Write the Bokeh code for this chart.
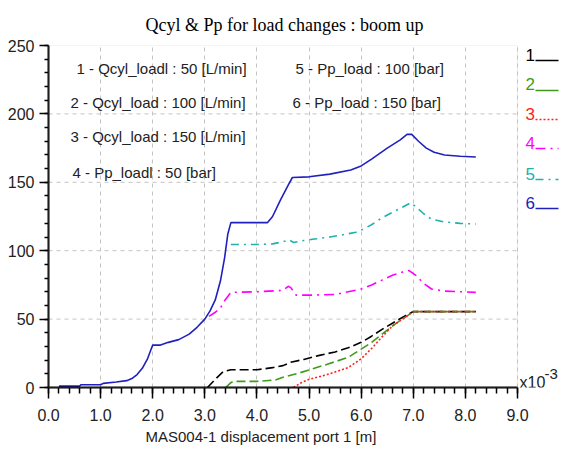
from bokeh.plotting import figure
from bokeh.models import Range1d, FixedTicker, Label, Arrow, BoxAnnotation, Title
from bokeh.embed import file_html
from bokeh.resources import INLINE

# Displacement (x10^-3 m) and curve values for each load case
x_q50 = [3.05, 3.2, 3.35, 3.5, 4.0, 4.3, 4.5, 4.65, 4.9, 5.2, 5.5, 5.75, 6.0, 6.2, 6.4, 6.6, 6.85, 7.0, 8.2]
y_q50 = [0, 6, 11.5, 13, 13, 14.5, 16, 18.5, 20.5, 23.5, 26, 29, 33, 37.5, 42.5, 47, 52.5, 55.5, 55.5]

x_q100 = [3.4, 3.5, 3.55, 4.0, 4.35, 4.5, 4.8, 5.1, 5.35, 5.75, 6.0, 6.2, 6.4, 6.6, 6.85, 7.0, 8.2]
y_q100 = [0, 3.5, 4.5, 4.5, 5.5, 7.5, 10.5, 14, 17, 22, 28, 33, 39, 45, 51.5, 55.5, 55.5]

x_q150 = [4.7, 4.85, 5.0, 5.35, 5.75, 6.0, 6.2, 6.4, 6.6, 6.85, 7.0, 8.2]
y_q150 = [0, 3.5, 6, 9.5, 14.5, 21, 28.5, 37, 45, 51.5, 55.5, 55.5]

x_p50 = [3.08, 3.2, 3.3, 3.35, 3.5, 4.0, 4.5, 4.6, 4.65, 4.75, 5.0, 5.5, 5.75, 6.0, 6.2, 6.4, 6.6, 6.8, 6.92, 7.05, 7.2, 7.35, 7.6, 7.9, 8.2]
y_p50 = [52, 55, 58, 62, 69.5, 70, 71, 74, 73, 67.5, 67.5, 68, 70, 72, 75, 78.5, 82, 84.5, 85.5, 82, 76, 72, 70.5, 70, 69.5]

x_p100 = [3.5, 4.0, 4.3, 4.5, 4.62, 4.7, 4.9, 5.1, 5.4, 5.7, 5.9, 6.0, 6.2, 6.4, 6.6, 6.8, 6.95, 7.05, 7.2, 7.35, 7.6, 7.9, 8.2]
y_p100 = [104.5, 104.5, 105, 106.5, 108, 106, 107.5, 108.5, 110, 112, 113.5, 115, 119, 124, 128, 132, 135, 132, 127, 123, 121, 120, 119.5]

x_p150 = [0.2, 0.6, 0.62, 1.0, 1.05, 1.3, 1.5, 1.6, 1.7, 1.8, 1.9, 1.96, 2.0, 2.15, 2.3, 2.5, 2.7, 2.85,
          3.0, 3.1, 3.2, 3.3, 3.38, 3.44, 3.5, 4.2, 4.3, 4.45, 4.6, 4.68, 5.0, 5.4, 5.8, 6.0, 6.2, 6.5,
          6.75, 6.88, 6.97, 7.1, 7.25, 7.4, 7.6, 7.9, 8.2]
y_p150 = [1, 1, 2, 2, 3, 4, 5, 6.5, 9.5, 14, 21, 27, 31, 31, 33, 35, 39, 44,
          50, 56, 64, 78, 95, 112, 120.5, 120.5, 125, 137, 148, 153.5, 154, 156, 159, 162, 167, 175,
          181, 185, 185, 180, 175, 172, 170, 169, 168.5]

x_ticks = [0, 1, 2, 3, 4, 5, 6, 7, 8, 9]
x_tick_labels = ["0.0", "1.0", "2.0", "3.0", "4.0", "5.0", "6.0", "7.0", "8.0", "9.0"]
y_ticks = [0, 50, 100, 150, 200, 250]

series_ids = ["1", "2", "3", "4", "5", "6"]
series_text = [
    "1 - Qcyl_loadl : 50  [L/min]",
    "2 - Qcyl_load  : 100  [L/min]",
    "3 - Qcyl_load  : 150 [L/min]",
    "4 - Pp_loadl : 50  [bar]",
    "5 - Pp_load : 100  [bar]",
    "6 - Pp_load  : 150  [bar]",
]

colors = ["#000000", "#3f9a1c", "#ff2020", "#ff00ff", "#20b0b0", "#2020c0"]
dashes = ["9 4", "9 4", "2 2", "10 5 2 5", "8 5 2 5", "solid"]
legend_dashes = ["solid", "solid", "2 2", "10 5 2 5", "8 5 2 5", "solid"]

# The frame runs to the right edge of the page so the key beside the plot box stays visible;
# the axis, grid and box are bounded to the 0..9 data span.
x_end = 9 * 513 / 469
p = figure(frame_width=513, frame_height=342, output_backend="svg", toolbar_location=None,
           x_range=Range1d(0, x_end), y_range=Range1d(0, 250),
           min_border_left=48, min_border_right=0, min_border_top=45, min_border_bottom=69)
p.background_fill_color = "white"
p.border_fill_color = "white"
p.outline_line_color = None

p.title = Title(text="Qcyl & Pp for load changes : boom up", align="left", offset=97,
                standoff=22, text_font="Liberation Serif", text_font_size="18px",
                text_font_style="normal", text_color="#000000")

xt = FixedTicker(ticks=x_ticks, minor_ticks=[i * 0.2 for i in range(46)])
yt = FixedTicker(ticks=y_ticks, minor_ticks=list(range(0, 251, 10)))
p.xaxis.ticker = xt
p.yaxis.ticker = yt
p.xgrid.ticker = xt
p.ygrid.visible = False
p.xaxis.bounds = (x_ticks[0], x_ticks[-1])
p.xaxis.major_label_overrides = dict(zip(x_ticks, x_tick_labels))

for ax in (p.xaxis, p.yaxis):
    ax.axis_line_color = "black"
    ax.axis_line_width = 2
    ax.major_tick_line_color = "black"
    ax.minor_tick_line_color = "black"
    ax.major_tick_line_width = 1.5
    ax.minor_tick_line_width = 1.5
    ax.major_tick_in = 0
    ax.minor_tick_in = 0
    ax.major_label_text_font = "Liberation Sans"
    ax.major_label_text_color = "#222222"
    ax.major_label_text_font_size = "16px"

p.xaxis.major_tick_out = 11
p.xaxis.minor_tick_out = 6
p.xaxis.major_label_standoff = 10
p.yaxis.major_tick_out = 9
p.yaxis.minor_tick_out = 4
p.yaxis.major_label_standoff = 5

p.add_layout(Title(text="MAS004-1 displacement port 1 [m]", align="left", offset=97,
                   standoff=5, text_font="Liberation Sans", text_font_size="15px",
                   text_font_style="normal", text_color="#222222"), "below")

p.xgrid.grid_line_color = "#c4c4c4"
p.xgrid.grid_line_dash = "4 4"
p.xgrid.grid_line_width = 1

# Horizontal grid lines limited to the plot box
inner_y = y_ticks[1:-1]
p.segment(x0=[x_ticks[0]] * len(inner_y), x1=[x_ticks[-1]] * len(inner_y), y0=inner_y, y1=inner_y,
          line_color="#c4c4c4", line_dash="4 4", line_width=1)

# Plot box
p.add_layout(BoxAnnotation(left=x_ticks[0], right=x_ticks[-1], bottom=y_ticks[0], top=y_ticks[-1],
                           fill_alpha=0, line_color="#b8b8b8", line_width=1))

xs = [x_q50, x_q100, x_q150, x_p50, x_p100, x_p150]
ys = [y_q50, y_q100, y_q150, y_p50, y_p100, y_p150]
for xv, yv, c, d in zip(xs, ys, colors, dashes):
    p.line(xv, yv, line_color=c, line_width=1.6, line_dash=d)

# Curve descriptions inside the plot area (screen offsets from frame's lower-left)
text_pos = [(28, 319), (22, 285), (22, 251), (24, 215), (247, 319), (244, 285)]
for t, (sx, sy) in zip(series_text, text_pos):
    p.add_layout(Label(x=sx, y=sy, x_units="screen", y_units="screen", text=t,
                       text_font="Liberation Sans", text_font_size="15px",
                       text_color="#222222", text_baseline="middle", text_align="left"))

# Key to the right of the plot box: coloured number and line sample
num_y = [333, 304, 274, 245, 214, 185]
line_y = [327, 297, 268, 239, 208, 179]
for sid, c, d, ny, ly in zip(series_ids, colors, legend_dashes, num_y, line_y):
    p.add_layout(Label(x=477, y=ny, x_units="screen", y_units="screen", text=sid,
                       text_font="Liberation Sans", text_font_size="17px",
                       text_color=c, text_baseline="middle", text_align="left"))
    p.add_layout(Arrow(x_start=487, y_start=ly, x_end=510, y_end=ly,
                       start_units="screen", end_units="screen", end=None,
                       line_color=c, line_width=1.6, line_dash=d))

# Scale factor note at the end of the x axis
p.add_layout(Label(x=471, y=5, x_units="screen", y_units="screen", text="x10",
                   text_font="Liberation Sans", text_font_size="16px",
                   text_color="#222222", text_baseline="middle"))
p.add_layout(Label(x=496, y=14, x_units="screen", y_units="screen", text="-3",
                   text_font="Liberation Sans", text_font_size="15px",
                   text_color="#222222", text_baseline="middle"))

open("out.html", "w").write(file_html(p, INLINE))
